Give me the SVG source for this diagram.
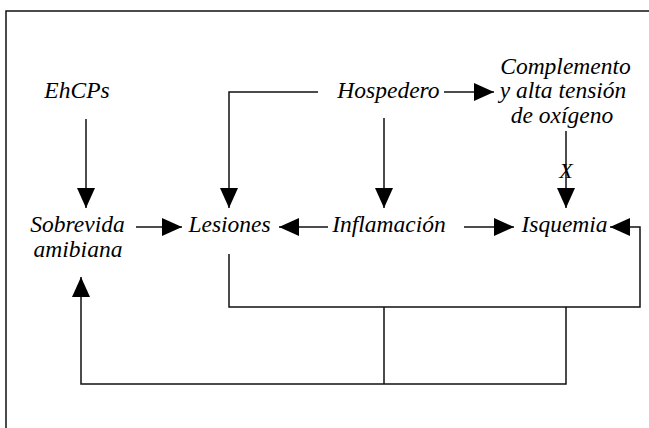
<svg xmlns="http://www.w3.org/2000/svg" width="649" height="428" viewBox="0 0 649 428">
<style>
  .t { font-style: italic; font-size: 23.5px; fill: #000; text-anchor: middle; }
  .c { fill: none; stroke: #111; stroke-width: 1.5; }
  .a { marker-end: url(#ah); }
</style>
<defs>
  <marker id="ah" markerUnits="userSpaceOnUse" markerWidth="20" markerHeight="18" refX="20" refY="9" orient="auto" viewBox="0 0 20 18">
    <path d="M0,0 L20,9 L0,18 Z" fill="#000"/>
  </marker>
</defs>
<rect width="649" height="428" fill="#fff"/>
<path d="M6,430 V11 H650" fill="none" stroke="#111" stroke-width="1.5"/>

<g font-family="Liberation Serif, Times New Roman, DejaVu Serif, serif">
<g id="ehcps"><text class="t" x="77" y="98">EhCPs</text></g>
<g id="hospedero"><text class="t" x="388.5" y="98">Hospedero</text></g>
<g id="complemento">
  <text class="t" x="565.5" y="74">Complemento</text>
  <text class="t" x="563" y="98">y alta tensión</text>
  <text class="t" x="562" y="123">de oxígeno</text>
</g>
<g id="sobrevida">
  <text class="t" x="77.5" y="232">Sobrevida</text>
  <text class="t" x="78" y="257">amibiana</text>
</g>
<g id="lesiones"><text class="t" x="229.5" y="232">Lesiones</text></g>
<g id="inflamacion"><text class="t" x="389" y="232">Inflamación</text></g>
<g id="isquemia"><text class="t" x="564.5" y="232">Isquemia</text></g>
</g>

<g id="connectors">
  <path class="c a" d="M86,119 V208"/>
  <path class="c a" d="M318,92 H229 V208"/>
  <path class="c a" d="M384,118 V208"/>
  <path class="c a" d="M444,92 H494"/>
  <path class="c a" d="M566,131 V208"/>
  <text class="t" x="566" y="178" font-family="Liberation Serif, Times New Roman, DejaVu Serif, serif" style="font-size:22px">X</text>
  <path class="c a" d="M136,227 H182"/>
  <path class="c a" d="M328,227 H279"/>
  <path class="c a" d="M464,227 H514"/>
  <path class="c a" d="M229,254 V307 H640 V227 H610"/>
  <path class="c" d="M384,307 V384"/>
  <path class="c a" d="M566,307 V384 H81 V277"/>
</g>
</svg>
